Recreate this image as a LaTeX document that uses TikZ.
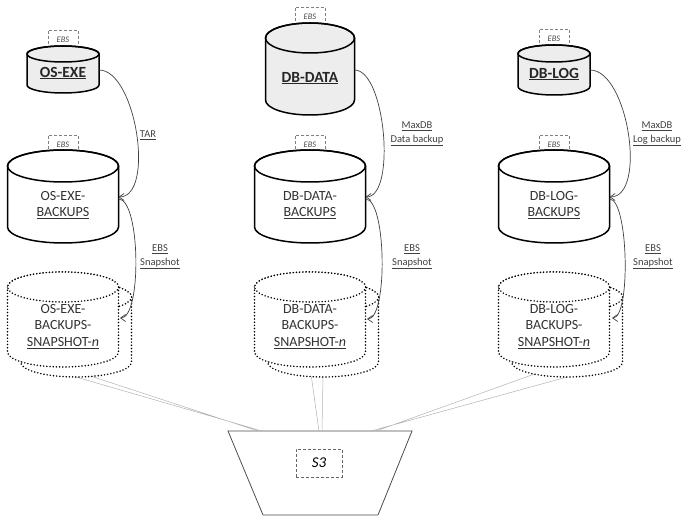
\documentclass[tikz,border=0pt]{standalone}
\usepackage{fontspec}
\setmainfont{Carlito}
\usetikzlibrary{calc, arrows.meta}

\begin{document}
\begin{tikzpicture}[x=1pt, y=1pt,
        disk/.style={draw=black, line width=1.5pt},
        snapdisk/.style={draw=black, fill=white, line width=1.7pt, dash pattern=on 0pt off 3.2pt, line cap=round},
        ebsbox/.style={draw=gray, densely dashed, line width=0.5pt, fill=white, inner sep=0pt, minimum width=30pt, minimum height=19pt, font=\fontsize{8.5}{9}\selectfont\itshape, text=black!70},
        disktext/.style={align=center, font=\fontsize{14}{16.5}\selectfont, text=black!80},
        disktitle/.style={font=\fontsize{15.5}{18}\selectfont\bfseries, text=black!85},
        flow/.style={draw=black!75, line width=0.7pt, -{Straight Barb[length=5pt,width=7pt]}},
        flowlbl/.style={align=center, font=\fontsize{10.5}{14}\selectfont, text=black!75},
        feed/.style={draw=black!30, line width=0.5pt}]
        \useasboundingbox (0,0) rectangle (689,520);
        % S3 bucket
        \coordinate (s3-a) at (258,89);
        \coordinate (s3-b) at (262,89);
        \coordinate (s3-c) at (319,89);
        \coordinate (s3-d) at (322,89);
        \coordinate (s3-e) at (371,89);
        \coordinate (s3-f) at (376,89);
        \draw[draw=black!70, line width=0.8pt] (228,89) -- (412,89) -- (378,5) -- (263,5) -- cycle;
        \node[draw=black!60, densely dashed, line width=0.5pt, minimum width=46pt, minimum height=28pt,
            font=\fontsize{15}{18}\selectfont\itshape] (s3) at (319,57) {S3};
        % feeds to S3 (behind the snapshots)
        \draw[feed] (63,153) -- (s3-a) (76,143) -- (s3-b);
        \draw[feed] (310,153) -- (s3-c) (323,143) -- (s3-d);
        \draw[feed] (554,153) -- (s3-f) (567,143) -- (s3-e);
        % source volumes
        \foreach \cx/\rx/\ry/\yt/\yb/\ly/\nm/\ttl in {63/36/8/466/435/447/osexe/OS-EXE,
                310/44.5/15/482/420/442/dbdata/DB-DATA, 554/36/8.5/466.5/433.5/446/dblog/DB-LOG} {
            \node[ebsbox] at (\cx,{\yt+\ry+6.5}) {EBS};
            \path[disk, fill=black!7] ({\cx-\rx},\yt) -- ({\cx-\rx},\yb)
                arc[start angle=180, end angle=360, x radius=\rx pt, y radius=\ry pt]
                -- ({\cx+\rx},\yt) arc[start angle=0, end angle=180, x radius=\rx pt, y radius=\ry pt] -- cycle;
            \draw[disk] (\cx,\yt) ellipse[x radius=\rx pt, y radius=\ry pt];
            \node[disktitle] (\nm) at (\cx,\ly) {\underline{\ttl}};
            \coordinate (\nm-out) at ({\cx+\rx},450);
        }
        % backup volumes
        \foreach \cx/\nm/\ttl in {63/osexe/OS-EXE, 310/dbdata/DB-DATA, 554/dblog/DB-LOG} {
            \node[ebsbox] at (\cx,375.5) {EBS};
            \path[disk, fill=white] ({\cx-55.5},354) -- ({\cx-55.5},293)
                arc[start angle=180, end angle=360, x radius=55.5pt, y radius=16pt]
                -- ({\cx+55.5},354) arc[start angle=0, end angle=180, x radius=55.5pt, y radius=16pt] -- cycle;
            \draw[disk] (\cx,354) ellipse[x radius=55.5pt, y radius=16pt];
            \node[disktext] (\nm-bk) at (\cx,315) {\ttl-\\\underline{BACKUPS}};
            \coordinate (\nm-bk-in) at ({\cx+55.5},323);
            \coordinate (\nm-bk-out) at ({\cx+55.5},321);
            % snapshots, back copy first
            \foreach \dx/\dy in {13/-10, 0/0} {
                \path[snapdisk] ({\cx+\dx-55.5},{233+\dy}) -- ({\cx+\dx-55.5},{168+\dy})
                    arc[start angle=180, end angle=360, x radius=55.5pt, y radius=15pt]
                    -- ({\cx+\dx+55.5},{233+\dy}) arc[start angle=0, end angle=180, x radius=55.5pt, y radius=15pt] -- cycle;
                \draw[snapdisk] ({\cx+\dx},{233+\dy}) ellipse[x radius=55.5pt, y radius=15pt];
            }
            \node[disktext] (\nm-snap) at (\cx,193.5) {\ttl-\\BACKUPS-\\\underline{SNAPSHOT-\textit{n}}};
        }
        \coordinate (osexe-snap-in) at (120,202);
        \coordinate (dbdata-snap-in) at (367,201);
        \coordinate (dblog-snap-in) at (612,202);
        % backup flows
        \draw[flow] (osexe-out) .. controls +(37,0) and +(37,0) .. (osexe-bk-in);
        \draw[flow] (dbdata-out) .. controls +(31,0) and +(31,0) .. (dbdata-bk-in);
        \draw[flow] (dblog-out) .. controls +(38,0) and +(38,0) .. (dblog-bk-in);
        \draw[flow] (osexe-bk-out) .. controls +(22,0) and +(22,0) .. (osexe-snap-in);
        \draw[flow] (dbdata-bk-out) .. controls +(21,0) and +(21,0) .. (dbdata-snap-in);
        \draw[flow] (dblog-bk-out) .. controls +(19,0) and +(19,0) .. (dblog-snap-in);
        \node[flowlbl] (tar) at (148,385) {\underline{TAR}};
        \node[flowlbl] (databk) at (417,386) {\underline{MaxDB}\\\underline{Data backup}};
        \node[flowlbl] (logbk) at (657,386) {\underline{MaxDB}\\\underline{Log backup}};
        \node[flowlbl] (osexe-snaplbl) at (160,263) {\underline{EBS}\\\underline{Snapshot}};
        \node[flowlbl] (dbdata-snaplbl) at (412,263) {\underline{EBS}\\\underline{Snapshot}};
        \node[flowlbl] (dblog-snaplbl) at (653,263) {\underline{EBS}\\\underline{Snapshot}};
    \end{tikzpicture}
\end{document}
